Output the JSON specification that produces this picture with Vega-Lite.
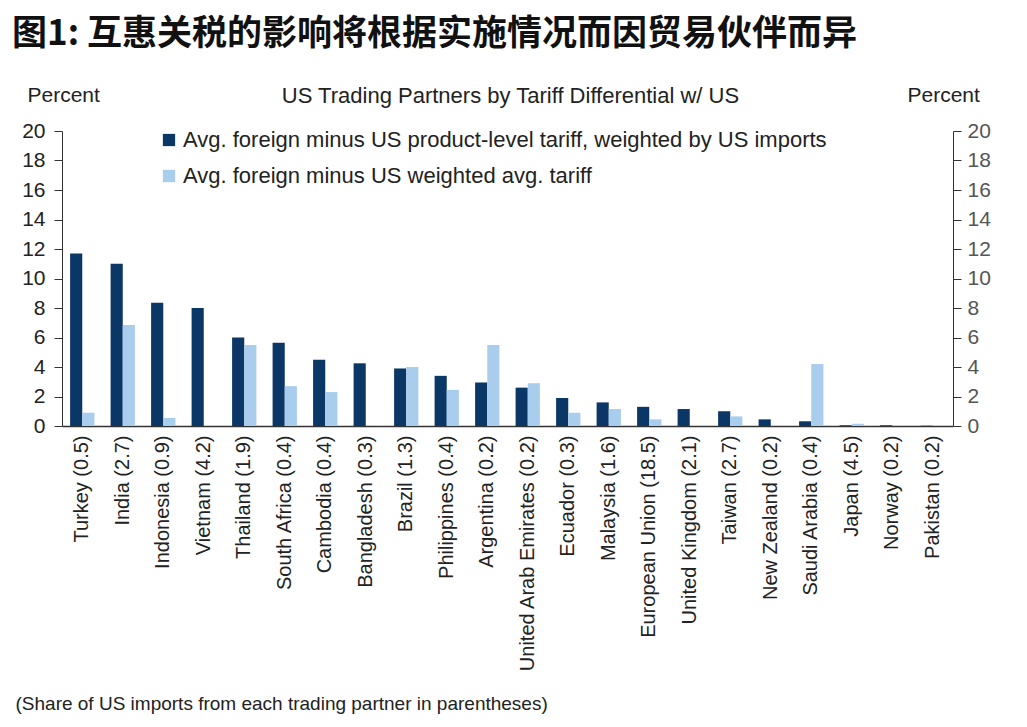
{
  "$schema": "https://vega.github.io/schema/vega-lite/v6.json",
  "width": 891,
  "height": 295,
  "autosize": {"type": "none"},
  "padding": {"left": 62, "top": 131, "right": 74, "bottom": 301},
  "background": "white",
  "title": {
    "text": "图1: 互惠关税的影响将根据实施情况而因贸易伙伴而异",
    "anchor": "start",
    "frame": "group",
    "dx": -50,
    "offset": 32,
    "font": "Noto Sans CJK SC",
    "fontSize": 35,
    "fontWeight": "bold",
    "color": "#111111"
  },
  "data": {
    "values": [
      {"country": "Turkey (0.5)", "series": "Avg. foreign minus US product-level tariff, weighted by US imports", "value": 11.7},
      {"country": "Turkey (0.5)", "series": "Avg. foreign minus US weighted avg. tariff", "value": 0.9},
      {"country": "India (2.7)", "series": "Avg. foreign minus US product-level tariff, weighted by US imports", "value": 11.0},
      {"country": "India (2.7)", "series": "Avg. foreign minus US weighted avg. tariff", "value": 6.85},
      {"country": "Indonesia (0.9)", "series": "Avg. foreign minus US product-level tariff, weighted by US imports", "value": 8.35},
      {"country": "Indonesia (0.9)", "series": "Avg. foreign minus US weighted avg. tariff", "value": 0.55},
      {"country": "Vietnam (4.2)", "series": "Avg. foreign minus US product-level tariff, weighted by US imports", "value": 8.0},
      {"country": "Vietnam (4.2)", "series": "Avg. foreign minus US weighted avg. tariff", "value": 0},
      {"country": "Thailand (1.9)", "series": "Avg. foreign minus US product-level tariff, weighted by US imports", "value": 6.0},
      {"country": "Thailand (1.9)", "series": "Avg. foreign minus US weighted avg. tariff", "value": 5.5},
      {"country": "South Africa (0.4)", "series": "Avg. foreign minus US product-level tariff, weighted by US imports", "value": 5.65},
      {"country": "South Africa (0.4)", "series": "Avg. foreign minus US weighted avg. tariff", "value": 2.7},
      {"country": "Cambodia (0.4)", "series": "Avg. foreign minus US product-level tariff, weighted by US imports", "value": 4.5},
      {"country": "Cambodia (0.4)", "series": "Avg. foreign minus US weighted avg. tariff", "value": 2.3},
      {"country": "Bangladesh (0.3)", "series": "Avg. foreign minus US product-level tariff, weighted by US imports", "value": 4.25},
      {"country": "Bangladesh (0.3)", "series": "Avg. foreign minus US weighted avg. tariff", "value": 0},
      {"country": "Brazil (1.3)", "series": "Avg. foreign minus US product-level tariff, weighted by US imports", "value": 3.9},
      {"country": "Brazil (1.3)", "series": "Avg. foreign minus US weighted avg. tariff", "value": 4.0},
      {"country": "Philippines (0.4)", "series": "Avg. foreign minus US product-level tariff, weighted by US imports", "value": 3.4},
      {"country": "Philippines (0.4)", "series": "Avg. foreign minus US weighted avg. tariff", "value": 2.45},
      {"country": "Argentina (0.2)", "series": "Avg. foreign minus US product-level tariff, weighted by US imports", "value": 2.95},
      {"country": "Argentina (0.2)", "series": "Avg. foreign minus US weighted avg. tariff", "value": 5.5},
      {"country": "United Arab Emirates (0.2)", "series": "Avg. foreign minus US product-level tariff, weighted by US imports", "value": 2.6},
      {"country": "United Arab Emirates (0.2)", "series": "Avg. foreign minus US weighted avg. tariff", "value": 2.9},
      {"country": "Ecuador (0.3)", "series": "Avg. foreign minus US product-level tariff, weighted by US imports", "value": 1.9},
      {"country": "Ecuador (0.3)", "series": "Avg. foreign minus US weighted avg. tariff", "value": 0.9},
      {"country": "Malaysia (1.6)", "series": "Avg. foreign minus US product-level tariff, weighted by US imports", "value": 1.6},
      {"country": "Malaysia (1.6)", "series": "Avg. foreign minus US weighted avg. tariff", "value": 1.15},
      {"country": "European Union (18.5)", "series": "Avg. foreign minus US product-level tariff, weighted by US imports", "value": 1.3},
      {"country": "European Union (18.5)", "series": "Avg. foreign minus US weighted avg. tariff", "value": 0.45},
      {"country": "United Kingdom (2.1)", "series": "Avg. foreign minus US product-level tariff, weighted by US imports", "value": 1.15},
      {"country": "United Kingdom (2.1)", "series": "Avg. foreign minus US weighted avg. tariff", "value": 0},
      {"country": "Taiwan (2.7)", "series": "Avg. foreign minus US product-level tariff, weighted by US imports", "value": 1.0},
      {"country": "Taiwan (2.7)", "series": "Avg. foreign minus US weighted avg. tariff", "value": 0.65},
      {"country": "New Zealand (0.2)", "series": "Avg. foreign minus US product-level tariff, weighted by US imports", "value": 0.45},
      {"country": "New Zealand (0.2)", "series": "Avg. foreign minus US weighted avg. tariff", "value": 0},
      {"country": "Saudi Arabia (0.4)", "series": "Avg. foreign minus US product-level tariff, weighted by US imports", "value": 0.32},
      {"country": "Saudi Arabia (0.4)", "series": "Avg. foreign minus US weighted avg. tariff", "value": 4.2},
      {"country": "Japan (4.5)", "series": "Avg. foreign minus US product-level tariff, weighted by US imports", "value": 0.05},
      {"country": "Japan (4.5)", "series": "Avg. foreign minus US weighted avg. tariff", "value": 0.15},
      {"country": "Norway (0.2)", "series": "Avg. foreign minus US product-level tariff, weighted by US imports", "value": 0.05},
      {"country": "Norway (0.2)", "series": "Avg. foreign minus US weighted avg. tariff", "value": 0},
      {"country": "Pakistan (0.2)", "series": "Avg. foreign minus US product-level tariff, weighted by US imports", "value": 0.02},
      {"country": "Pakistan (0.2)", "series": "Avg. foreign minus US weighted avg. tariff", "value": 0}
    ]
  },
  "config": {
    "view": {"stroke": null},
    "font": "Liberation Sans",
    "axis": {"labelFont": "Liberation Sans", "titleFont": "Liberation Sans", "grid": false, "domainColor": "#333333", "tickColor": "#333333"}
  },
  "layer": [
    {
      "mark": {"type": "bar"},
      "encoding": {
        "x": {
          "field": "country",
          "type": "nominal",
          "sort": null,
          "scale": {"paddingInner": 0.4, "paddingOuter": 0.2},
          "axis": {
            "orient": "bottom",
            "labelAngle": -90,
            "labelFontSize": 20,
            "labelColor": "#222222",
            "labelPadding": 9,
            "labelLimit": 400,
            "ticks": false,
            "domainWidth": 1.5,
            "title": "(Share of US imports from each trading partner in parentheses)",
            "titleFontSize": 19,
            "titleFontWeight": "normal",
            "titleColor": "#222222",
            "titleAnchor": "start",
            "titleAlign": "left",
            "titleBaseline": "middle",
            "titleX": -47,
            "titleY": 277
          }
        },
        "xOffset": {
          "field": "series",
          "type": "nominal",
          "sort": null,
          "scale": {"paddingInner": 0, "paddingOuter": 0}
        },
        "y": {
          "field": "value",
          "type": "quantitative",
          "scale": {"domain": [0, 20], "nice": false},
          "axis": {
            "orient": "left",
            "values": [0, 2, 4, 6, 8, 10, 12, 14, 16, 18, 20],
            "labelFontSize": 21,
            "labelColor": "#222222",
            "tickSize": 8,
            "labelPadding": 9,
            "title": "Percent",
            "titleAngle": 0,
            "titleFontSize": 21,
            "titleFontWeight": "normal",
            "titleColor": "#222222",
            "titleAlign": "left",
            "titleBaseline": "middle",
            "titleX": -35,
            "titleY": -36
          }
        },
        "color": {
          "field": "series",
          "type": "nominal",
          "sort": null,
          "scale": {"range": ["#0b3766", "#a9cdec"]},
          "legend": {
            "title": null,
            "orient": "none",
            "legendX": 96,
            "legendY": -2,
            "symbolType": "square",
            "symbolSize": 150,
            "symbolStrokeWidth": 0,
            "labelFontSize": 22,
            "labelColor": "#222222",
            "labelOffset": 3,
            "labelLimit": 900,
            "rowPadding": 14,
            "padding": 0
          }
        }
      }
    },
    {
      "mark": {"type": "bar", "opacity": 0},
      "encoding": {
        "x": {
          "field": "country",
          "type": "nominal",
          "sort": null,
          "axis": {
            "orient": "top",
            "labels": false,
            "ticks": false,
            "domain": false,
            "title": "US Trading  Partners by Tariff  Differential  w/ US",
            "titleFontSize": 22,
            "titleFontWeight": "normal",
            "titleColor": "#222222",
            "titleAlign": "center",
            "titleBaseline": "middle",
            "titleX": 448,
            "titleY": -36
          }
        },
        "xOffset": {"field": "series", "type": "nominal", "sort": null},
        "y": {
          "field": "value",
          "type": "quantitative",
          "scale": {"domain": [0, 20], "nice": false},
          "axis": {
            "orient": "right",
            "values": [0, 2, 4, 6, 8, 10, 12, 14, 16, 18, 20],
            "labelFontSize": 21,
            "labelColor": "#555555",
            "tickSize": 8,
            "labelPadding": 6,
            "title": "Percent",
            "titleAngle": 0,
            "titleFontSize": 21,
            "titleFontWeight": "normal",
            "titleColor": "#222222",
            "titleAlign": "left",
            "titleBaseline": "middle",
            "titleX": -46,
            "titleY": -36
          }
        }
      }
    }
  ],
  "resolve": {"scale": {"y": "independent"}, "axis": {"x": "independent", "y": "independent"}}
}
